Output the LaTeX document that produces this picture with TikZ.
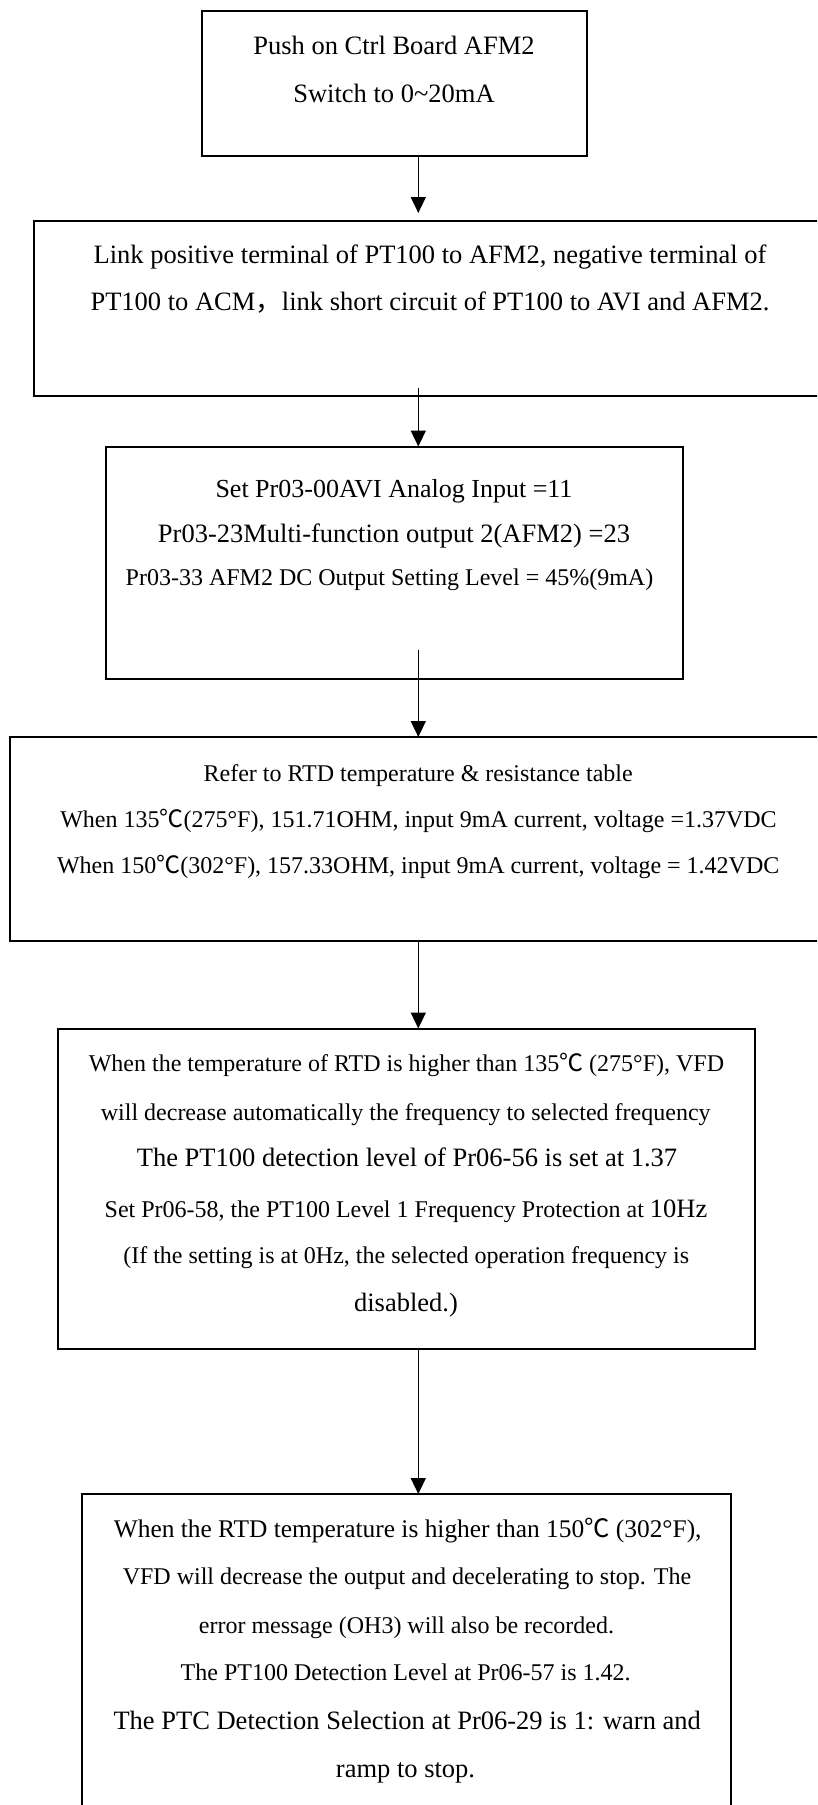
\documentclass[tikz,border=0pt]{standalone}
\usepackage{fontspec}
\setmainfont{Liberation Serif}
\newfontfamily\cjk{Noto Sans CJK SC}
\usetikzlibrary{arrows.meta}
\newcommand{\fbig}{\fontsize{26.5}{30}\selectfont}
\newcommand{\fmid}{\fontsize{26}{30}\selectfont}
\newcommand{\fsml}{\fontsize{24}{28}\selectfont}
\newcommand{\degc}{{\cjk ℃}}
\begin{document}
\begin{tikzpicture}[x=1pt,y=-1pt,
  box/.style={draw=black, line width=2pt, inner sep=0pt, outer sep=0pt, rectangle},
  txt/.style={anchor=base, inner sep=0pt, outer sep=0pt},
  arr/.style={line width=1.6pt, -{Triangle[width=15pt,length=16pt]}}]
\clip (0,0) rectangle (817,1805);
\fill[white] (0,0) rectangle (817,1805);
% boxes
\node[box, minimum width=385pt, minimum height=145pt] (b1) at (394.5,83) {};
\node[box, minimum width=792pt, minimum height=175pt] (b2) at (430,308.5) {};
\node[box, minimum width=576.5pt, minimum height=232.5pt] (b3) at (394.25,562.75) {};
\node[box, minimum width=817.5pt, minimum height=204pt] (b4) at (418.25,839) {};
\node[box, minimum width=697pt, minimum height=320.5pt] (b5) at (406,1188.75) {};
\node[box, minimum width=648.5pt, minimum height=336pt] (b6) at (406.25,1662) {};
% arrows
\coordinate (ax) at (418.3,0);
\coordinate (s2) at (418.3,388);
\coordinate (s3) at (418.3,649.5);
\draw[arr, shorten >=8pt] (b1.south -| ax) -- (b2.north -| ax);
\draw[arr] (s2) -- (b3.north -| ax);
\draw[arr] (s3) -- (b4.north -| ax);
\draw[arr] (b4.south -| ax) -- (b5.north -| ax);
\draw[arr] (b5.south -| ax) -- (b6.north -| ax);
% box 1
\node[txt, font=\fbig] (t11) at (394,54.5) {Push on Ctrl Board AFM2};
\node[txt, font=\fbig] (t12) at (394,102) {Switch to 0\textasciitilde 20mA};
% box 2
\node[txt, font=\fbig] (t21) at (430,263) {Link positive terminal of PT100 to AFM2, negative terminal of};
\node[txt, font=\fbig] (t22) at (430,310.5) {PT100 to ACM{\cjk ，}link short circuit of PT100 to AVI and AFM2.};
% box 3
\node[txt, font=\fmid] (t31) at (394,497) {Set Pr03-00AVI Analog Input =11};
\node[txt, font=\fbig] (t32) at (394,542) {Pr03-23Multi-function output 2(AFM2) =23};
\node[txt, font=\fsml] (t33) at (389.5,585) {Pr03-33 AFM2 DC Output Setting Level = 45\%(9mA)};
% box 4
\node[txt, font=\fsml] (t41) at (418.2,781) {Refer to RTD temperature \& resistance table};
\node[txt, font=\fsml] (t42) at (418.5,827) {When 135\degc(275°F), 151.71OHM, input 9mA current, voltage =1.37VDC};
\node[txt, font=\fsml] (t43) at (418.2,873.5) {When 150\degc(302°F), 157.33OHM, input 9mA current, voltage = 1.42VDC};
% box 5
\node[txt, font=\fsml] (t51) at (406.5,1071) {When the temperature of RTD is higher than 135\degc{} (275°F), VFD};
\node[txt, font=\fsml] (t52) at (405.7,1120) {will decrease automatically the frequency to selected frequency};
\node[txt, font=\fbig] (t53) at (407,1166) {The PT100 detection level of Pr06-56 is set at 1.37};
\node[txt, font=\fsml] (t54) at (406,1217.5) {Set Pr06-58, the PT100 Level 1 Frequency Protection at {\fbig 10Hz}};
\node[txt, font=\fsml] (t55) at (406.2,1263) {(If the setting is at 0Hz, the selected operation frequency is};
\node[txt, font=\fbig] (t56) at (406,1311.5) {disabled.)};
% box 6
\node[txt, font=\fontsize{25.4}{30}\selectfont] (t61) at (407.7,1537.5) {When the RTD temperature is higher than 150\degc{} (302°F),};
\node[txt, font=\fsml] (t62) at (407,1584.5) {VFD will decrease the output and decelerating to stop. The};
\node[txt, font=\fsml] (t63) at (406.5,1633) {error message (OH3) will also be recorded.};
\node[txt, font=\fsml] (t64) at (405.7,1680) {The PT100 Detection Level at Pr06-57 is 1.42.};
\node[txt, font=\fbig] (t65) at (407.2,1729.5) {The PTC Detection Selection at Pr06-29 is 1: warn and};
\node[txt, font=\fbig] (t66) at (405.5,1777.5) {ramp to stop.};
\end{tikzpicture}
\end{document}
